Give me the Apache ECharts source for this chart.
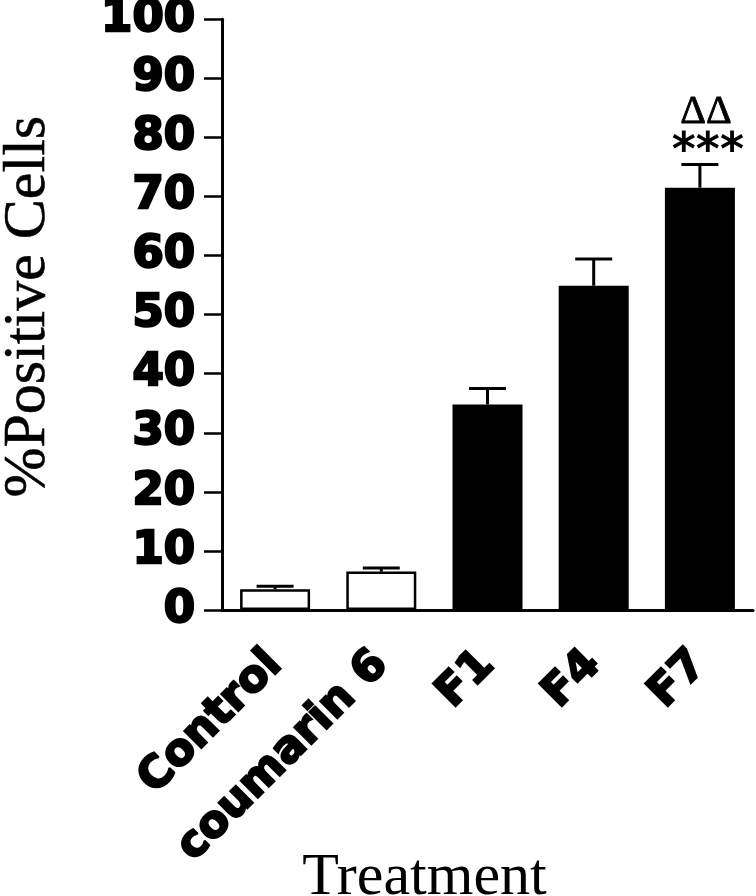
<!DOCTYPE html>
<html><head><meta charset="utf-8">
<script src="https://cdn.jsdelivr.net/npm/echarts@6/dist/echarts.min.js"></script>
<style>html,body{margin:0;padding:0;background:#fff}#c{width:756px;height:896px}</style>
</head><body><div id="c"></div>
<script>
// ---- data ----
const categories = ['Control', 'coumarin 6', 'F1', 'F4', 'F7'];
const means = [3.5, 6.5, 34.8, 54.9, 71.5];
const errors = [0.5, 0.6, 2.7, 4.5, 3.9];
const barFills = ['#ffffff', '#ffffff', '#000000', '#000000', '#000000'];
const starMarks = ['', '', '', '', '***'];
const deltaMarks = ['', '', '', '', 'ΔΔ'];
const yMin = 0, yMax = 100, yStep = 10;
const yTitle = '%Positive Cells';
const xTitle = 'Treatment';

const chart = echarts.init(document.getElementById('c'), null, {renderer: 'canvas'});
const heavy = 'DejaVu Sans';
const serif = 'Liberation Serif';

const option = {
  animation: false,
  backgroundColor: '#ffffff',
  grid: {left: 222, right: 3, top: 19.3, bottom: 286, containLabel: false, outerBoundsMode: 'none'},
  xAxis: {
    type: 'category',
    data: categories,
    axisLine: {lineStyle: {color: '#000', width: 3}},
    axisTick: {alignWithLabel: true, length: 18, lineStyle: {color: '#000', width: 2.5}},
    axisLabel: {
      rotate: 45, margin: 48, color: '#000',
      fontFamily: heavy, fontWeight: 'bold', fontSize: 44,
      textBorderColor: '#000', textBorderWidth: 2.2, interval: 0
    },
    name: xTitle,
    nameLocation: 'middle',
    nameGap: 238,
    nameMoveOverlap: false,
    nameTextStyle: {fontFamily: serif, fontSize: 60, color: '#000', padding: [0, 126, 0, 0]}
  },
  yAxis: {
    type: 'value',
    min: yMin, max: yMax, interval: yStep,
    splitLine: {show: false},
    axisLine: {show: true, lineStyle: {color: '#000', width: 3}},
    axisTick: {show: true, length: 18, lineStyle: {color: '#000', width: 2.5}},
    axisLabel: {
      margin: 27, color: '#000',
      fontFamily: heavy, fontWeight: 'bold', fontSize: 45,
      textBorderColor: '#000', textBorderWidth: 2.4
    },
    name: yTitle,
    nameLocation: 'middle',
    nameGap: 164,
    nameMoveOverlap: false,
    nameTextStyle: {fontFamily: serif, fontSize: 60, color: '#000', textBorderColor: '#000', textBorderWidth: 0.6,
      padding: [0, 0, 0, 16]}
  },
  series: [
    {
      type: 'bar',
      barWidth: 70,
      data: means.map((v, i) => ({
        value: v,
        itemStyle: {color: barFills[i], borderColor: '#000', borderWidth: 2.5}
      })),
      z: 2
    },
    {
      type: 'custom',
      z: 3,
      data: means.map((m, i) => [i, m, errors[i]]),
      encode: {x: 0, y: 1},
      renderItem: function (params, api) {
        const i = api.value(0);
        const m = api.value(1);
        const e = api.value(2);
        const base = api.coord([i, m]);
        const top = api.coord([i, m + e]);
        const hw = 18.5;
        const children = [
          {type: 'line', shape: {x1: base[0], y1: base[1], x2: top[0], y2: top[1]},
            style: {stroke: '#000', lineWidth: 3}},
          {type: 'line', shape: {x1: top[0] - hw, y1: top[1], x2: top[0] + hw, y2: top[1]},
            style: {stroke: '#000', lineWidth: 3}}
        ];
        if (starMarks[i]) {
          children.push({type: 'text', x: top[0] + 8, y: top[1] + 11,
            style: {text: starMarks[i], fill: '#000', font: 'bold 46px "DejaVu Sans"',
              align: 'center', verticalAlign: 'bottom'}});
        }
        if (deltaMarks[i]) {
          children.push({type: 'text', x: top[0] + 6, y: top[1] - 32,
            style: {text: deltaMarks[i], fill: '#000', font: '40px "Liberation Serif"',
              align: 'center', verticalAlign: 'bottom', stroke: '#000', lineWidth: 0.8}});
        }
        return {type: 'group', children: children};
      }
    }
  ]
};
chart.setOption(option);
</script>
</body></html>
